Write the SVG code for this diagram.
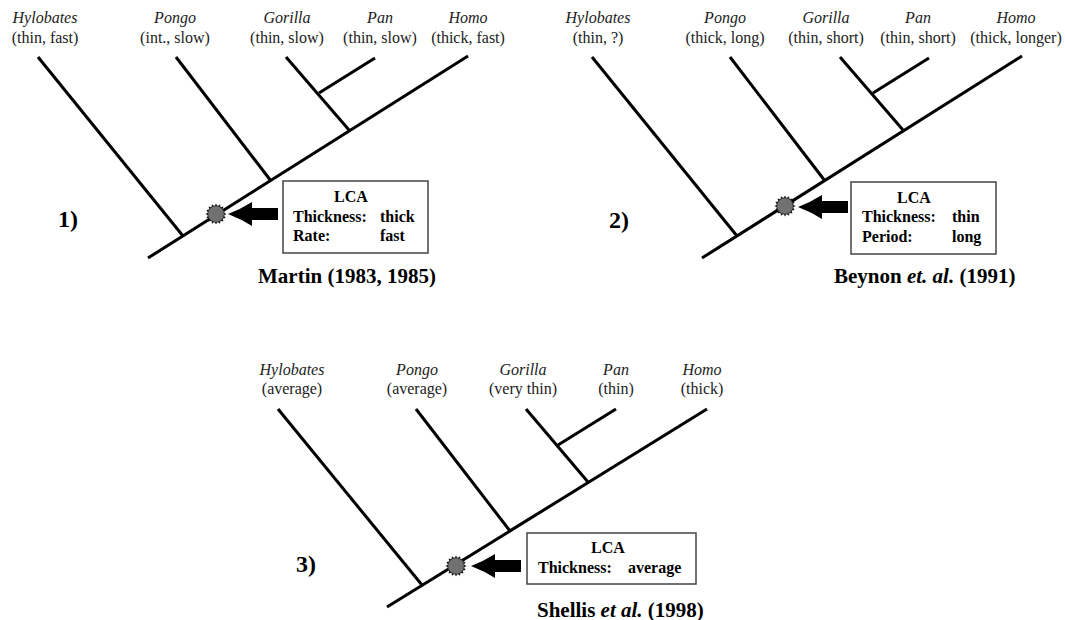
<svg xmlns="http://www.w3.org/2000/svg" xmlns:xlink="http://www.w3.org/1999/xlink" width="1065" height="620" viewBox="0 0 1065 620">
<style>
  text { font-family: "Liberation Serif", "Times New Roman", serif; fill: #000; }
  .nm { font-size: 16px; font-style: italic; text-anchor: middle; fill: #222; }
  .pr { font-size: 16px; text-anchor: middle; fill: #222; }
  .bx { font-size: 16px; font-weight: bold; }
  .mid { text-anchor: middle; }
  .num { font-size: 24px; font-weight: bold; }
  .cap { font-size: 21px; font-weight: bold; }
  .br { stroke: #000; stroke-width: 3; fill: none; stroke-linecap: butt; }
  .box { fill: #fff; stroke: #444; stroke-width: 1.5; }
  .arr { fill: #000; }
</style>
<defs>
  <g id="tree">
    <line class="br" x1="148" y1="258" x2="468" y2="56"/>
    <line class="br" x1="38" y1="57" x2="183" y2="236"/>
    <line class="br" x1="176" y1="57" x2="271" y2="181"/>
    <line class="br" x1="286" y1="57" x2="349" y2="130"/>
    <line class="br" x1="375" y1="58" x2="319" y2="93"/>
  </g>
  <g id="star">
    <polygon fill="#111" points="10.5,0 7.85,1.56 9.7,4.02 6.65,4.44 7.42,7.42 4.44,6.65 4.02,9.7 1.56,7.85 0,10.5 -1.56,7.85 -4.02,9.7 -4.44,6.65 -7.42,7.42 -6.65,4.44 -9.7,4.02 -7.85,1.56 -10.5,0 -7.85,-1.56 -9.7,-4.02 -6.65,-4.44 -7.42,-7.42 -4.44,-6.65 -4.02,-9.7 -1.56,-7.85 0,-10.5 1.56,-7.85 4.02,-9.7 4.44,-6.65 7.42,-7.42 6.65,-4.44 9.7,-4.02 7.85,-1.56"/>
    <circle r="8.2" fill="#717171" stroke="#333" stroke-width="0.8"/>
  </g>
  <path id="arrow" d="M0,0 Q13,-5 24,-12 L24,-6 L50,-6 L50,6 L24,6 L24,12 Q13,5 0,0 Z"/>
</defs>

<g id="connectors">
  <use xlink:href="#tree"/>
  <use xlink:href="#tree" transform="translate(554,0)"/>
  <g id="tree3">
    <line class="br" x1="387" y1="607" x2="707" y2="409"/>
    <line class="br" x1="278" y1="409" x2="422" y2="585"/>
    <line class="br" x1="416" y1="409" x2="510" y2="531"/>
    <line class="br" x1="526" y1="409" x2="588" y2="482"/>
    <line class="br" x1="616" y1="409" x2="558" y2="445"/>
  </g>
  <use class="arr" xlink:href="#arrow" transform="translate(228,214)"/>
  <use class="arr" xlink:href="#arrow" transform="translate(798,207)"/>
  <use class="arr" xlink:href="#arrow" transform="translate(471,566)"/>
</g>

<!-- Panel 1 -->
<g id="p1-hylobates"><text class="nm" x="45" y="23">Hylobates</text><text class="pr" x="45" y="43">(thin, fast)</text></g>
<g id="p1-pongo"><text class="nm" x="175" y="23">Pongo</text><text class="pr" x="175" y="43">(int., slow)</text></g>
<g id="p1-gorilla"><text class="nm" x="287" y="23">Gorilla</text><text class="pr" x="287" y="43">(thin, slow)</text></g>
<g id="p1-pan"><text class="nm" x="380" y="23">Pan</text><text class="pr" x="380" y="43">(thin, slow)</text></g>
<g id="p1-homo"><text class="nm" x="468" y="23">Homo</text><text class="pr" x="468" y="43">(thick, fast)</text></g>
<g id="p1-lca-node"><use xlink:href="#star" transform="translate(216,214)"/></g>
<g id="p1-box">
  <rect class="box" x="283" y="181" width="145" height="72"/>
  <text class="bx mid" x="351" y="202">LCA</text>
  <text class="bx" x="293" y="222">Thickness:</text><text class="bx" x="380" y="222">thick</text>
  <text class="bx" x="293" y="241">Rate:</text><text class="bx" x="380" y="241">fast</text>
</g>
<g id="p1-num"><text class="num" x="58" y="227">1)</text></g>
<g id="p1-caption"><text class="cap" x="258" y="283">Martin (1983, 1985)</text></g>

<!-- Panel 2 -->
<g id="p2-hylobates"><text class="nm" x="598" y="23">Hylobates</text><text class="pr" x="598" y="43">(thin, ?)</text></g>
<g id="p2-pongo"><text class="nm" x="725" y="23">Pongo</text><text class="pr" x="725" y="43">(thick, long)</text></g>
<g id="p2-gorilla"><text class="nm" x="826" y="23">Gorilla</text><text class="pr" x="826" y="43">(thin, short)</text></g>
<g id="p2-pan"><text class="nm" x="918" y="23">Pan</text><text class="pr" x="918" y="43">(thin, short)</text></g>
<g id="p2-homo"><text class="nm" x="1016" y="23">Homo</text><text class="pr" x="1016" y="43">(thick, longer)</text></g>
<g id="p2-lca-node"><use xlink:href="#star" transform="translate(785,206)"/></g>
<g id="p2-box">
  <rect class="box" x="851" y="182" width="145" height="72"/>
  <text class="bx mid" x="914" y="203">LCA</text>
  <text class="bx" x="862" y="222">Thickness:</text><text class="bx" x="952" y="222">thin</text>
  <text class="bx" x="862" y="242">Period:</text><text class="bx" x="952" y="242">long</text>
</g>
<g id="p2-num"><text class="num" x="609" y="228">2)</text></g>
<g id="p2-caption"><text class="cap" x="834" y="283">Beynon <tspan font-style="italic">et. al.</tspan> (1991)</text></g>

<!-- Panel 3 -->
<g id="p3-hylobates"><text class="nm" x="292" y="375">Hylobates</text><text class="pr" x="292" y="394">(average)</text></g>
<g id="p3-pongo"><text class="nm" x="417" y="375">Pongo</text><text class="pr" x="417" y="394">(average)</text></g>
<g id="p3-gorilla"><text class="nm" x="523" y="375">Gorilla</text><text class="pr" x="523" y="394">(very thin)</text></g>
<g id="p3-pan"><text class="nm" x="616" y="375">Pan</text><text class="pr" x="616" y="394">(thin)</text></g>
<g id="p3-homo"><text class="nm" x="702" y="375">Homo</text><text class="pr" x="702" y="394">(thick)</text></g>
<g id="p3-lca-node"><use xlink:href="#star" transform="translate(456,566)"/></g>
<g id="p3-box">
  <rect class="box" x="527" y="533" width="169" height="51"/>
  <text class="bx mid" x="608" y="553">LCA</text>
  <text class="bx" x="538" y="573">Thickness:</text><text class="bx" x="628" y="573">average</text>
</g>
<g id="p3-num"><text class="num" x="296" y="572">3)</text></g>
<g id="p3-caption"><text class="cap" x="537" y="617">Shellis <tspan font-style="italic">et al.</tspan> (1998)</text></g>
</svg>
